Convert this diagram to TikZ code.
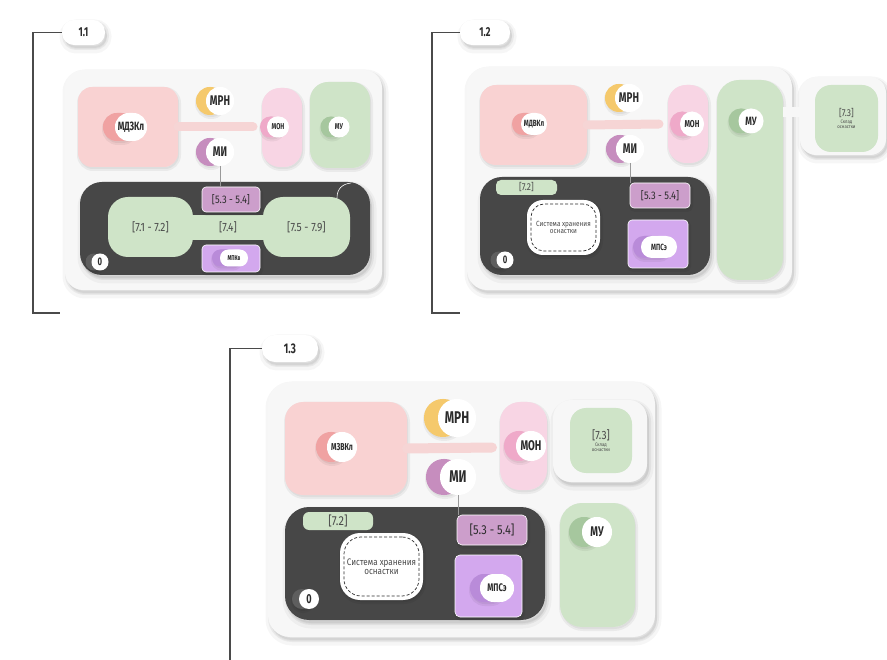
\documentclass[tikz,border=0pt]{standalone}
\usepackage{fontspec}
\setmainfont{Fira Sans}
\newfontfamily\heavyf{Fira Sans}[FakeStretch=0.7]
\newfontfamily\thinf{Fira Sans}[FakeStretch=0.85]
\usetikzlibrary{shadows,calc}
\definecolor{pinkA}{HTML}{F9D2D2}
\definecolor{pinkAc}{HTML}{F0A2A2}
\definecolor{pinkB}{HTML}{F8D5E4}
\definecolor{pinkBc}{HTML}{EFA9C9}
\definecolor{greenA}{HTML}{CFE4C8}
\definecolor{greenAc}{HTML}{A6C79E}
\definecolor{yellowc}{HTML}{F5C96C}
\definecolor{mauvec}{HTML}{C68DBE}
\definecolor{mauveA}{HTML}{CC9ECB}
\definecolor{lavA}{HTML}{D3A8EE}
\definecolor{lavc}{HTML}{B98BD9}
\definecolor{darkA}{HTML}{474747}
\definecolor{darkc}{HTML}{5E5E5E}
\definecolor{panelA}{HTML}{F7F7F7}
\definecolor{barpink}{HTML}{F6D5D5}
\definecolor{inkA}{HTML}{2B2B2B}
\definecolor{inkB}{HTML}{4A4A4A}
\newcommand\fsz[1]{\fontsize{#1}{#1}\selectfont}
\tikzset{
  blk/.style={rectangle, inner sep=0pt, outer sep=0pt, draw=none},
  softsh/.style={general shadow={fill=black, draw=black, line width=9pt, opacity=.035, shadow xshift=2pt, shadow yshift=-4pt},
                 general shadow={fill=black, draw=black, line width=4pt, opacity=.05, shadow xshift=2pt, shadow yshift=-3pt}},
  smallsh/.style={general shadow={fill=black, draw=black, line width=4pt, opacity=.05, shadow xshift=1pt, shadow yshift=-2pt}},
  panel/.style={blk, fill=panelA, softsh},
  tag/.style={blk, fill=white, softsh, text=inkA, font=\heavyf\bfseries\fsz{13}},
  bar/.style={line width=9pt, draw=barpink, line cap=round},
  link/.style={draw=black!40, line width=0.6pt},
  brk/.style={draw=inkB, line width=1.2pt},
  lbl/.style={text=inkB, font=\thinf\fsz{12}},
  rng/.style={blk, fill=mauveA, draw=white, line width=0.6pt, rounded corners=4, smallsh, text=inkA, font=\thinf\fsz{11}},
  lavbox/.style={blk, fill=lavA, draw=white, line width=0.6pt, rounded corners=4, smallsh},
  dshbox/.style={blk, fill=white, smallsh},
  dshin/.style={blk, draw=inkA, dashed, dash pattern=on 3pt off 2pt, line width=0.7pt, align=center, text=inkB}
}
% bead: name, position, crescent colour, width, height, offset, font size, text
\newcommand\bead[8]{%
  \path (#2) ++(-#6,0) node[blk, fill=#3, smallsh, minimum width=#4, minimum height=#5, rounded corners=0.49*#5] {};
  \node[blk, fill=white, minimum width=#4, minimum height=#5, rounded corners=0.49*#5, text=inkA, font=\heavyf\bfseries\fsz{#7}] (#1) at (#2) {#8};}
\begin{document}
\begin{tikzpicture}[x=1pt,y=-1pt]
\useasboundingbox (0,0) rectangle (887,660);
\fill[white] (0,0) rectangle (887,660);

%% ---------------- 1.1 ----------------
\node[tag, minimum width=43, minimum height=25, rounded corners=12] (lab11) at (83.5,32.5) {1.1};
\coordinate (k11a) at (33,32.5); \coordinate (k11b) at (33,313); \coordinate (k11c) at (60,313);
\draw[brk] (lab11.west) -- (k11a) -- (k11b) -- (k11c);
\node[panel, minimum width=317, minimum height=220, rounded corners=18] (out11) at (223.5,180) {};
\node[blk, fill=pinkA, minimum width=100, minimum height=80, rounded corners=14, smallsh] (pk11) at (128,127) {};
\node[blk, fill=pinkB, minimum width=40, minimum height=79, rounded corners=18, smallsh] (mo11) at (282,127.5) {};
\node[blk, fill=greenA, minimum width=60, minimum height=86, rounded corners=18, smallsh] (mu11) at (340,125) {};
\coordinate (b11) at (253,127);
\draw[bar] (pk11.east) -- (b11);
\bead{mdz11}{131,127}{pinkAc}{32}{28}{12}{12}{МДЗКл}
\bead{mph11}{220,101}{yellowc}{28}{28}{10}{14}{МРН}
\bead{mi11}{220,152}{mauvec}{28}{28}{10}{14}{МИ}
\bead{mon11}{278,127}{pinkBc}{22}{21}{7}{8.5}{МОН}
\bead{my11}{339,127}{greenAc}{21}{21}{8}{8.5}{МУ}
\node[blk, fill=darkA, minimum width=290, minimum height=93, rounded corners=22, softsh] (dk11) at (225,228.5) {};
\node[blk, fill=greenA, minimum width=80, minimum height=25, lbl] (g74) at (228,227.5) {};
\node[blk, fill=greenA, minimum width=85, minimum height=60, rounded corners=20, lbl] (g71) at (150.5,227) {[7.1 - 7.2]};
\node[blk, fill=greenA, minimum width=87, minimum height=60, rounded corners=20, lbl] (g75) at (306.5,227) {[7.5 - 7.9]};
\node[lbl, inner sep=0pt] (t74) at (g74) {[7.4]};
\node[rng, minimum width=58, minimum height=25] (r11) at (231,199.5) {[5.3 - 5.4]};
\draw[link] (mi11.south) -- (mi11.south |- r11.north);
\node[lavbox, minimum width=58, minimum height=27] (pk11b) at (231,258.5) {};
\bead{mpk11}{234,258}{lavc}{28}{17}{8}{7}{МПКв}
\bead{z11}{100,262}{darkc}{17}{17}{6}{11}{0}
\draw[white, line width=0.6pt] (337,198) .. controls (337,189) and (342,184) .. (351,183);

%% ---------------- 1.2 ----------------
\node[tag, minimum width=50, minimum height=25, rounded corners=12] (lab12) at (485,32.5) {1.2};
\coordinate (k12a) at (432,32.5); \coordinate (k12b) at (432,313); \coordinate (k12c) at (460,313);
\draw[brk] (lab12.west) -- (k12a) -- (k12b) -- (k12c);
\node[panel, minimum width=325, minimum height=223, rounded corners=20] (out12) at (629.5,178.5) {};
\node[blk, fill=pinkA, minimum width=107, minimum height=80, rounded corners=16, smallsh] (pk12) at (533.5,125) {};
\node[blk, fill=pinkB, minimum width=40, minimum height=78, rounded corners=18, smallsh] (mo12) at (688,124) {};
\node[blk, fill=greenA, minimum width=66, minimum height=200, rounded corners=22, smallsh] (mu12) at (750,180) {};
\node[panel, minimum width=86, minimum height=78, rounded corners=16] (o73a) at (843,116) {};
\coordinate (w12) at (783,112);
\draw[line width=10pt, draw=panelA] (w12) -- (w12 -| o73a.west);
\node[blk, fill=greenA, minimum width=63, minimum height=67, rounded corners=16, align=center, text=inkB, font=\thinf\fsz{5}] (g73a) at (846.5,118.5)
  {{\fsz{10}[7.3]}\\[2pt]Склад\\оснастки};
\coordinate (b12) at (659,124);
\draw[bar] (pk12.east) -- (b12);
\bead{mdv12}{534,124}{pinkAc}{26}{22}{9}{9}{МДВКл}
\bead{mph12}{629,98}{yellowc}{28}{28}{10}{14}{МРН}
\bead{mi12}{630,149}{mauvec}{28}{28}{10}{14}{МИ}
\bead{mon12}{692,124}{pinkBc}{24}{25}{10}{10}{МОН}
\bead{my12}{751,121}{greenAc}{25}{25}{10}{12}{МУ}
\node[blk, fill=darkA, minimum width=230, minimum height=98, rounded corners=22, softsh] (dk12) at (595,226) {};
\node[blk, fill=greenA, minimum width=61, minimum height=15, rounded corners=5, lbl, font=\thinf\fsz{10}] (p72a) at (526.5,187.5) {[7.2]};
\node[dshbox, minimum width=73, minimum height=55, rounded corners=16] (ds12) at (563.5,227.5) {};
\node[dshin, minimum width=65, minimum height=47, rounded corners=13, font=\thinf\fsz{7.5}] (dsi12) at (ds12) {Система хранения\\оснастки};
\node[rng, minimum width=60, minimum height=25] (r12) at (660,195.5) {[5.3 - 5.4]};
\draw[link] (mi12.south) -- (mi12.south |- r12.north);
\node[lavbox, minimum width=60, minimum height=48] (ps12) at (658,244) {};
\bead{mps12}{659,247}{lavc}{36}{22}{8}{9}{МПСэ}
\bead{z12}{505,260}{darkc}{17}{17}{6}{11}{0}

%% ---------------- 1.3 ----------------
\node[tag, minimum width=56, minimum height=27, rounded corners=13, font=\heavyf\bfseries\fsz{14}] (lab13) at (290,348.5) {1.3};
\coordinate (k13a) at (230,348.5); \coordinate (k13b) at (230,660);
\draw[brk] (lab13.west) -- (k13a) -- (k13b);
\node[panel, minimum width=387, minimum height=255, rounded corners=22] (out13) at (461.5,509.5) {};
\node[blk, fill=pinkA, minimum width=122, minimum height=93, rounded corners=18, smallsh] (pk13) at (346,448.5) {};
\node[blk, fill=pinkB, minimum width=47, minimum height=88, rounded corners=20, smallsh] (mo13) at (523.5,446) {};
\node[panel, minimum width=94, minimum height=82, rounded corners=18] (o73b) at (600,441) {};
\node[blk, fill=greenA, minimum width=62, minimum height=65, rounded corners=16, align=center, text=inkB, font=\thinf\fsz{5}] (g73b) at (601,440.5)
  {{\fsz{12}[7.3]}\\[2pt]Склад\\оснастки};
\coordinate (b13) at (492,447.5);
\draw[bar, line width=10pt] (pk13.east) -- (b13);
\bead{mzv13}{342,447}{pinkAc}{30}{30}{11}{10}{МЗВКл}
\bead{mph13}{457,418}{yellowc}{38}{38}{14}{17}{МРН}
\bead{mi13}{458,477}{mauvec}{36}{36}{14}{17}{МИ}
\bead{mon13}{531,446}{pinkBc}{30}{30}{12}{14}{МОН}
\node[blk, fill=darkA, minimum width=260, minimum height=113, rounded corners=24, softsh] (dk13) at (415,563.5) {};
\node[blk, fill=greenA, minimum width=75, minimum height=124, rounded corners=22, smallsh] (mu13) at (597.5,565) {};
\bead{my13}{597,532}{greenAc}{30}{30}{13}{14}{МУ}
\node[blk, fill=greenA, minimum width=70, minimum height=18, rounded corners=6, lbl, font=\thinf\fsz{13}] (p72b) at (338,521) {[7.2]};
\node[dshbox, minimum width=83, minimum height=67, rounded corners=20] (ds13) at (381.5,566.5) {};
\node[dshin, minimum width=75, minimum height=59, rounded corners=17, font=\thinf\fsz{9.5}] (dsi13) at (ds13) {Система хранения\\оснастки};
\node[rng, minimum width=70, minimum height=30, rounded corners=5, font=\thinf\fsz{13}] (r13) at (492,530) {[5.3 - 5.4]};
\draw[link] (mi13.south) -- (mi13.south |- r13.north);
\node[lavbox, minimum width=67, minimum height=62, rounded corners=5] (ps13) at (488.5,586) {};
\bead{mps13}{497,588}{lavc}{34}{28}{10}{11}{МПСэ}
\bead{z13}{309,599}{darkc}{20}{20}{7}{13}{0}
\end{tikzpicture}
\end{document}
